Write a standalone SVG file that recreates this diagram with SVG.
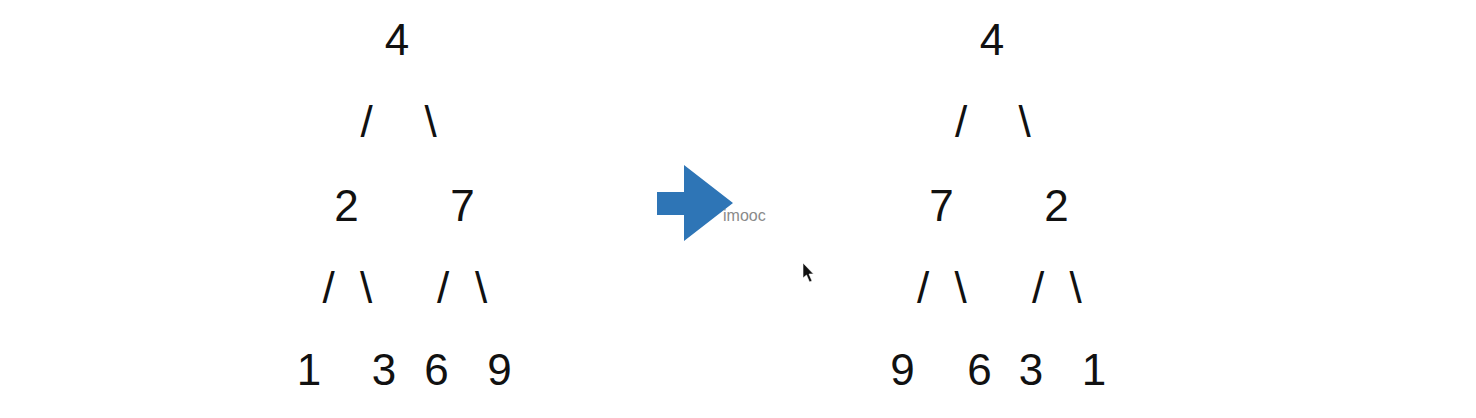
<svg xmlns="http://www.w3.org/2000/svg" width="1476" height="418" viewBox="0 0 1476 418">
<style>
  .t { font-family: "Liberation Sans", Arial, sans-serif; font-size: 44px; fill: #111; text-anchor: middle; }
  .wm { font-family: "Liberation Sans", Arial, sans-serif; font-size: 16px; fill: #8a8a8a; }
</style>
<rect width="1476" height="418" fill="#ffffff"/>
<g id="left-tree">
  <g id="l-n4"><text class="t" x="397" y="55">4</text></g>
  <g id="l-e1"><text class="t" x="366.5" y="136.5">/</text><text class="t" x="430.5" y="136.5">\</text></g>
  <g id="l-n2"><text class="t" x="346.5" y="220.5">2</text></g>
  <g id="l-n7"><text class="t" x="462.5" y="220.5">7</text></g>
  <g id="l-e2"><text class="t" x="328.5" y="302.5">/</text><text class="t" x="366" y="302.5">\</text><text class="t" x="443" y="302.5">/</text><text class="t" x="481" y="302.5">\</text></g>
  <g id="l-n1"><text class="t" x="309" y="385">1</text></g>
  <g id="l-n3"><text class="t" x="384" y="385">3</text></g>
  <g id="l-n6"><text class="t" x="436.5" y="385">6</text></g>
  <g id="l-n9"><text class="t" x="499.5" y="385">9</text></g>
</g>
<g id="arrow">
  <polygon points="657,192 684,192 684,165 733,203 684,241 684,215 657,215" fill="#2E75B6"/>
  <text class="wm" x="723" y="221">imooc</text>
</g>
<g id="cursor">
  <polygon points="803,263 803,278 806.5,275 809.5,282 812,281 809,274 813.5,274" fill="#111" stroke="#fff" stroke-width="0.6"/>
</g>
<g id="right-tree">
  <g id="r-n4"><text class="t" x="992" y="54.5">4</text></g>
  <g id="r-e1"><text class="t" x="961" y="136.5">/</text><text class="t" x="1024.5" y="136.5">\</text></g>
  <g id="r-n7"><text class="t" x="941.5" y="220.5">7</text></g>
  <g id="r-n2"><text class="t" x="1056.5" y="220.5">2</text></g>
  <g id="r-e2"><text class="t" x="923" y="303">/</text><text class="t" x="960.5" y="303">\</text><text class="t" x="1038" y="303">/</text><text class="t" x="1075.5" y="303">\</text></g>
  <g id="r-n9"><text class="t" x="902.5" y="385">9</text></g>
  <g id="r-n6"><text class="t" x="979.5" y="385">6</text></g>
  <g id="r-n3"><text class="t" x="1031" y="385">3</text></g>
  <g id="r-n1"><text class="t" x="1094" y="385">1</text></g>
</g>
</svg>
